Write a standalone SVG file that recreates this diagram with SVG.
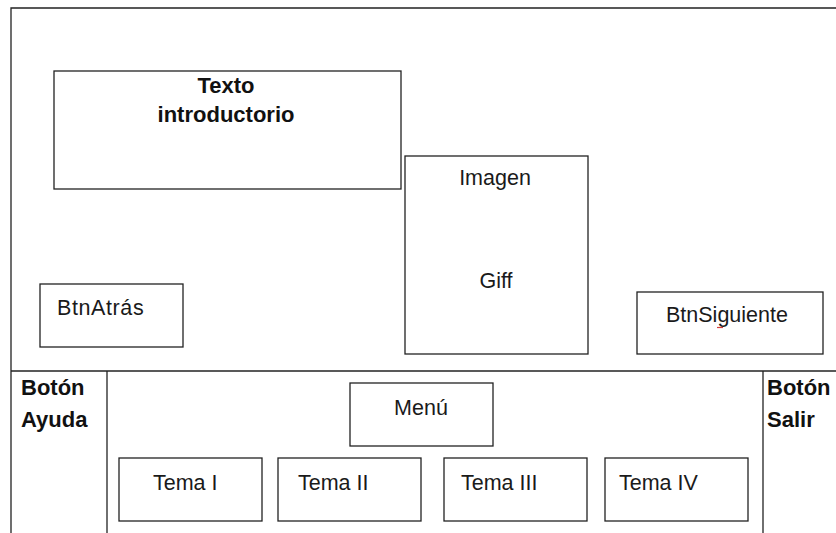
<svg xmlns="http://www.w3.org/2000/svg" width="836" height="533" viewBox="0 0 836 533">
  <style>
    .box { fill: #ffffff; stroke: #222222; stroke-width: 1.3; }
    .rule { fill: none; stroke: #222222; stroke-width: 1.3; }
    .lbl { font-family: "Liberation Sans", Arial, sans-serif; font-size: 21.5px; fill: #1a1a1a; }
    .bold { font-weight: bold; font-size: 22px; fill: #111111; }
    .mid { text-anchor: middle; }
  </style>
  <rect width="836" height="533" fill="#ffffff"/>

  <!-- page frame and bottom bar dividers -->
  <g id="frame">
    <path class="rule" d="M11 533 V8 H836"/>
    <path class="rule" d="M11 371 H836"/>
    <path class="rule" d="M107 371 V533"/>
    <path class="rule" d="M763 371 V533"/>
  </g>

  <g id="texto-introductorio">
    <rect class="box" x="54" y="71" width="347" height="118"/>
    <text class="lbl bold mid" x="226" y="93">Texto</text>
    <text class="lbl bold mid" x="226" y="122">introductorio</text>
  </g>

  <g id="imagen">
    <rect class="box" x="405" y="156" width="183" height="198"/>
    <text class="lbl mid" x="495" y="185">Imagen</text>
    <text class="lbl mid" x="496" y="288">Giff</text>
  </g>

  <g id="btn-atras">
    <rect class="box" x="40" y="284" width="143" height="63"/>
    <text class="lbl" x="57" y="315" letter-spacing="0.6">BtnAtrás</text>
  </g>

  <g id="btn-siguiente">
    <rect class="box" x="637" y="292" width="186" height="62"/>
    <text class="lbl" x="666" y="322">BtnSiguiente</text>
    <path d="M717 327.5 H723" stroke="#d23c3c" stroke-width="1.2"/>
  </g>

  <g id="boton-ayuda">
    <text class="lbl bold" x="21" y="395">Botón</text>
    <text class="lbl bold" x="21" y="427">Ayuda</text>
  </g>

  <g id="boton-salir">
    <text class="lbl bold" x="767" y="395">Botón</text>
    <text class="lbl bold" x="767" y="427">Salir</text>
  </g>

  <g id="menu">
    <rect class="box" x="350" y="383" width="143" height="63"/>
    <text class="lbl mid" x="421" y="415">Menú</text>
  </g>

  <g id="tema-1">
    <rect class="box" x="119" y="458" width="143" height="63"/>
    <text class="lbl" x="153" y="490">Tema I</text>
  </g>

  <g id="tema-2">
    <rect class="box" x="278" y="458" width="143" height="63"/>
    <text class="lbl" x="298" y="490">Tema II</text>
  </g>

  <g id="tema-3">
    <rect class="box" x="444" y="458" width="143" height="63"/>
    <text class="lbl" x="461" y="490">Tema III</text>
  </g>

  <g id="tema-4">
    <rect class="box" x="605" y="458" width="143" height="63"/>
    <text class="lbl" x="619" y="490">Tema IV</text>
  </g>

  <!-- no connectors between the panels -->
  <g id="connectors"/>
</svg>
